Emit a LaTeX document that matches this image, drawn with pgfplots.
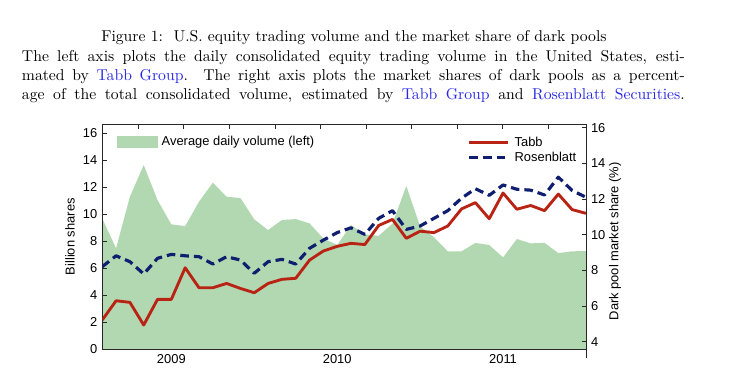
\documentclass[border=0pt]{standalone}
\usepackage{pgfplots}
\usepackage{pgfplotstable}
\pgfplotsset{compat=1.18}
\usepackage{fontspec}
\newfontfamily\arial{Liberation Sans}
\definecolor{volgreen}{RGB}{178,216,178}
\definecolor{tabbred}{RGB}{185,35,20}
\definecolor{rosblue}{RGB}{15,30,110}
\definecolor{linkblue}{RGB}{40,40,230}
\definecolor{axgray}{RGB}{40,40,40}

\pgfplotstableread{
x vol tabb ros
0 9.69 5.22 8.21
1 7.47 6.30 8.82
2 11.30 6.21 8.49
3 13.65 4.94 7.80
4 11.05 6.38 8.68
5 9.25 6.38 8.90
6 9.12 8.15 8.82
7 10.93 7.03 8.77
8 12.34 7.03 8.36
9 11.30 7.27 8.77
10 11.20 6.99 8.58
11 9.62 6.75 7.84
12 8.83 7.27 8.49
13 9.57 7.50 8.62
14 9.64 7.56 8.36
15 9.32 8.58 9.24
16 8.20 9.09 9.70
17 7.72 9.35 10.12
18 9.20 9.52 10.39
19 8.50 9.45 10.02
20 8.40 10.52 10.92
21 9.30 10.86 11.35
22 12.10 9.80 10.30
23 9.10 10.20 10.49
24 8.30 10.12 10.92
25 7.25 10.49 11.35
26 7.25 11.45 12.05
27 7.87 11.80 12.58
28 7.72 10.90 12.21
29 6.80 12.34 12.79
30 8.16 11.43 12.55
31 7.84 11.64 12.50
32 7.88 11.35 12.23
33 7.12 12.28 13.23
34 7.25 11.41 12.48
35 7.27 11.20 12.10
}\data

\newcommand{\chartfont}{\arial\fontsize{9}{10.8}\selectfont}
\newcommand{\capfont}{\fontsize{10.95}{13.6}\selectfont}

\begin{document}
\begin{tikzpicture}
\path[use as bounding box] (0,0) rectangle (517.4pt,267.1pt);

\node[anchor=base, inner sep=0pt, font=\capfont] at (246.8pt,238.0pt)
  {Figure 1:\ \ U.S. equity trading volume and the market share of dark pools};
\node[anchor=base west, inner sep=0pt, font=\capfont] at (15.1pt,224.5pt)
  {\makebox[462.2pt][s]{The left axis plots the daily consolidated equity trading volume in the United States, esti-}};
\node[anchor=base west, inner sep=0pt, font=\capfont] at (15.1pt,211.3pt)
  {\makebox[462.2pt][s]{mated by \textcolor{linkblue}{Tabb Group}.\ \ The right axis plots the market shares of dark pools as a percent-}};
\node[anchor=base west, inner sep=0pt, font=\capfont] at (15.1pt,198.0pt)
  {\makebox[462.2pt][s]{age of the total consolidated volume, estimated by \textcolor{linkblue}{Tabb Group} and \textcolor{linkblue}{Rosenblatt Securities}.}};

\begin{axis}[
  at={(71.3pt,23.7pt)}, anchor=south west, scale only axis,
  width=337.3pt, height=156.7pt,
  xmin=0, xmax=35, ymin=0, ymax=16.67,
  axis x line*=box, axis y line*=left,
  axis on top,
  axis line style={-, draw=axgray, line width=0.6pt},
  xtick={2.62,5.91,9.21,12.50,15.80,19.09,22.38,25.68,28.97,32.27},
  xticklabels={},
  xtick pos=right, xticklabel pos=left,
  extra x ticks={5,17,29}, extra x tick labels={2009,2010,2011},
  extra x tick style={major tick length=0pt},
  ytick={0,2,...,16},
  tick align=inside, major tick length=3pt,
  tick style={draw=axgray, line width=0.6pt},
  tick label style={font=\chartfont, text=black},
  /pgf/number format/assume math mode=true,
  ylabel={Billion shares},
  every axis y label/.style={at={(axis description cs:-0.0667,0.5)}, rotate=90, anchor=center, font=\chartfont},
  legend style={draw=none, fill=none, at={(axis description cs:0.0304,0.921)}, anchor=west,
    inner sep=0pt, outer sep=0pt, nodes={inner sep=0pt, font=\chartfont}, column sep=2.6pt},
  legend cell align=left,
  legend image code/.code={\fill[volgreen] (0pt,-4.4pt) rectangle (28.6pt,4.4pt);},
]
\addplot[fill=volgreen, draw=none] table[x=x,y=vol]{\data} \closedcycle;
\addlegendentry{Average daily volume (left)}
\end{axis}

\begin{axis}[
  at={(71.3pt,17.2pt)}, anchor=south west, scale only axis,
  width=337.3pt, height=163.2pt,
  xmin=0, xmax=35, ymin=3.07, ymax=16.19,
  axis x line=none, axis y line*=right,
  axis line style={-, draw=axgray, line width=0.6pt},
  ytick={4,6,...,16},
  tick align=inside, major tick length=3pt,
  tick style={draw=axgray, line width=0.6pt},
  tick label style={font=\chartfont, text=black},
  /pgf/number format/assume math mode=true,
  ylabel={Dark pool market share (\%)},
  every axis y label/.style={at={(axis description cs:1.06,0.5)}, rotate=90, anchor=center, font=\chartfont},
  legend style={draw=none, fill=none, at={(axis description cs:0.7556,0.890)}, anchor=west,
    inner sep=0pt, outer sep=0pt, nodes={inner sep=0pt, font=\chartfont}, column sep=3.3pt, row sep=2.5pt},
  legend cell align=left,
  legend image code/.code={\draw[#1] (0pt,0pt) -- (27.2pt,0pt);},
]
\addplot[tabbred, line width=2pt, line join=round] table[x=x,y=tabb]{\data};
\addlegendentry{Tabb}
\addplot[rosblue, line width=2.2pt, line join=round, dash pattern=on 6pt off 3.5pt] table[x=x,y=ros]{\data};
\addlegendentry{Rosenblatt}
\end{axis}
\end{tikzpicture}
\end{document}
